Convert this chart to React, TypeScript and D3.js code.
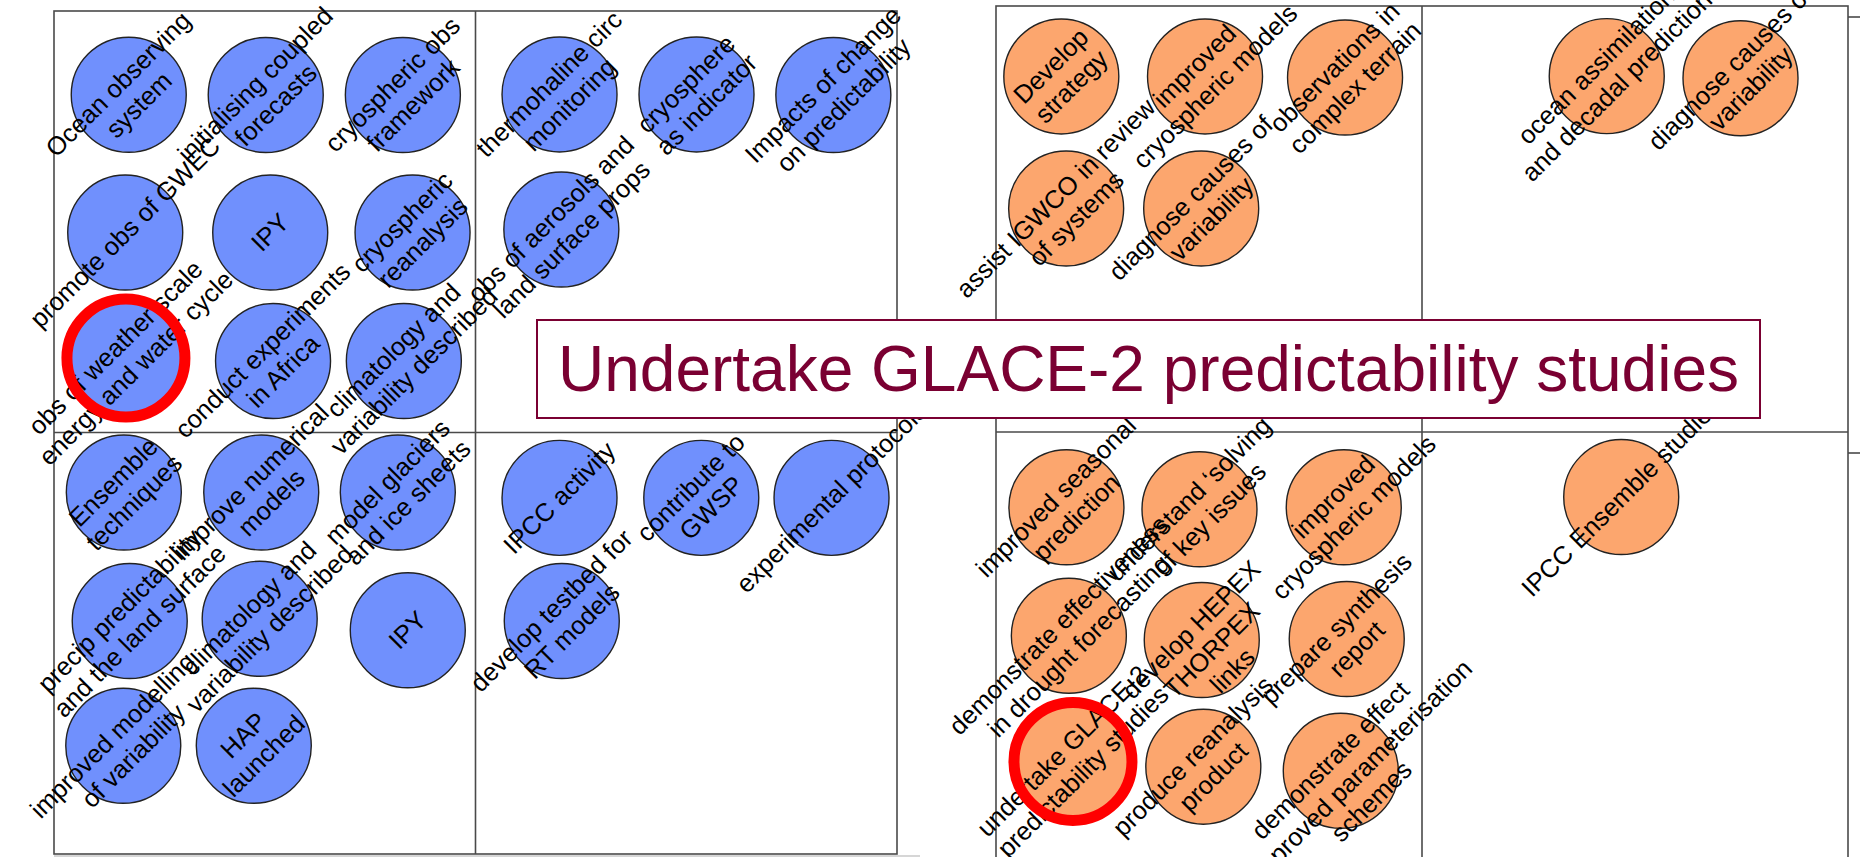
import React from 'react';
import * as d3 from 'd3';

type Node = { lines: string[]; u: number; v: number };

// Grid units: each panel is 6 x 6 units (two quadrants of 3 x 3 each way)
const leftTopLeft: Node[] = [
  { lines: ['Ocean observing', 'system'], u: 0.532, v: 0.596 },
  { lines: ['initialising coupled', 'forecasts'], u: 1.507, v: 0.598 },
  { lines: ['cryospheric obs', 'framework'], u: 2.483, v: 0.598 },
  { lines: ['promote obs of GWEC'], u: 0.507, v: 1.577 },
  { lines: ['IPY'], u: 1.539, v: 1.577 },
  { lines: ['cryospheric', 'reanalysis'], u: 2.552, v: 1.577 },
  { lines: ['obs of weather scale', 'energy and water cycle'], u: 0.512, v: 2.47 },
  { lines: ['conduct experiments', 'in Africa'], u: 1.559, v: 2.491 },
  { lines: ['climatology and', 'variability described'], u: 2.49, v: 2.491 },
];
const leftTopRight: Node[] = [
  { lines: ['thermohaline circ', 'monitoring'], u: 3.598, v: 0.594 },
  { lines: ['cryosphere', 'as indicator'], u: 4.573, v: 0.594 },
  { lines: ['Impacts of change', 'on predictability'], u: 5.547, v: 0.598 },
  { lines: ['obs of aerosols and', 'land surface props'], u: 3.611, v: 1.555 },
];
const leftBottomLeft: Node[] = [
  { lines: ['Ensemble', 'techniques'], u: 0.497, v: 3.427 },
  { lines: ['improve numerical', 'models'], u: 1.475, v: 3.427 },
  { lines: ['model glaciers', 'and ice sheets'], u: 2.447, v: 3.427 },
  { lines: ['precip predictability', 'and the land surface'], u: 0.539, v: 4.342 },
  { lines: ['climatology and', 'variability described'], u: 1.464, v: 4.326 },
  { lines: ['IPY'], u: 2.518, v: 4.408 },
  { lines: ['improved modelling', 'of variability'], u: 0.493, v: 5.23 },
  { lines: ['HAP', 'launched'], u: 1.422, v: 5.23 },
];
const leftBottomRight: Node[] = [
  { lines: ['IPCC activity'], u: 3.598, v: 3.465 },
  { lines: ['contribute to', 'GWSP'], u: 4.607, v: 3.465 },
  { lines: ['experimental protocols'], u: 5.534, v: 3.465 },
  { lines: ['develop testbed for', 'RT models'], u: 3.614, v: 4.342 },
];

const rightTopLeft: Node[] = [
  { lines: ['Develop', 'strategy'], u: 0.46, v: 0.496 },
  { lines: ['improved', 'cryospheric models'], u: 1.472, v: 0.496 },
  { lines: ['observations in', 'complex terrain'], u: 2.458, v: 0.504 },
  { lines: ['assist IGWCO in review', 'of systems'], u: 0.494, v: 1.426 },
  { lines: ['diagnose causes of', 'variability'], u: 1.445, v: 1.426 },
];
const rightTopRight: Node[] = [
  { lines: ['ocean assimilation', 'and decadal prediction'], u: 4.301, v: 0.494 },
  { lines: ['diagnose causes of', 'variability'], u: 5.243, v: 0.509 },
];
const rightBottomLeft: Node[] = [
  { lines: ['improved seasonal', 'prediction'], u: 0.496, v: 3.53 },
  { lines: ['understand \u2018solving', 'of key issues'], u: 1.433, v: 3.544 },
  { lines: ['improved', 'cryospheric models'], u: 2.449, v: 3.53 },
  { lines: ['demonstrate effectiveness', 'in drought forecasting'], u: 0.513, v: 4.435 },
  { lines: ['develop HEPEX', 'THORPEX', 'links'], u: 1.449, v: 4.465 },
  { lines: ['prepare synthesis', 'report'], u: 2.47, v: 4.458 },
  { lines: ['undertake GLACE-2', 'predictability studies'], u: 0.542, v: 5.32 },
  { lines: ['produce reanalysis', 'product'], u: 1.46, v: 5.357 },
  { lines: ['demonstrate effect', 'of improved parameterisation', 'schemes'], u: 2.428, v: 5.386 },
];
const rightBottomRight: Node[] = [
  { lines: ['IPCC Ensemble studies'], u: 4.403, v: 3.458 },
];

const highlighted = ['obs of weather scale', 'undertake GLACE-2'];
const titleText = 'Undertake GLACE-2 predictability studies';

const BLUE = '#7090fd';
const ORANGE = '#fca66e';
const MAROON = '#7a0032';
const FONT = '"Liberation Sans", Arial, sans-serif';

function Panel({ nodes, xs, ys, fill }: { nodes: Node[]; xs: d3.ScaleLinear<number, number>; ys: d3.ScaleLinear<number, number>; fill: string }) {
  const r = 57.5;
  const fs = 25.5;
  const lh = 29;
  // single lines are centred; multi-line labels have their first two lines straddling the centre
  const lineY = (j: number, n: number) => (n === 1 ? 0 : (j - 0.5) * lh) + fs * 0.33;
  return (
    <g>
      {nodes.map((n, i) => (
        <circle key={'c' + i} cx={xs(n.u)} cy={ys(n.v)} r={r} fill={fill} stroke="#222" strokeWidth={1.4} />
      ))}
      {nodes.map((n, i) => (
        <text
          key={'t' + i}
          transform={`translate(${xs(n.u)},${ys(n.v)}) rotate(-45)`}
          fontFamily={FONT}
          fontSize={fs}
          fill="#000"
          textAnchor="middle"
        >
          {n.lines.map((l, j) => (
            <tspan key={j} x={0} y={lineY(j, n.lines.length)}>
              {l}
            </tspan>
          ))}
        </text>
      ))}
      {nodes
        .filter((n) => highlighted.includes(n.lines[0]))
        .map((n, i) => (
          <circle key={'h' + i} cx={xs(n.u)} cy={ys(n.v)} r={59} fill="none" stroke="#ff0000" strokeWidth={11} />
        ))}
    </g>
  );
}

export default function App() {
  const lx = d3.scaleLinear().domain([0, 6]).range([54, 897]);
  const ly = d3.scaleLinear().domain([0, 6]).range([11, 854]);
  const rx = d3.scaleLinear().domain([0, 6]).range([996, 1848]);
  const ry = d3.scaleLinear().domain([0, 6]).range([6, 858]);
  const border = '#4a4a4a';
  const bw = 1.6;

  const leftNodes = [...leftTopLeft, ...leftTopRight, ...leftBottomLeft, ...leftBottomRight];
  const rightNodes = [...rightTopLeft, ...rightTopRight, ...rightBottomLeft, ...rightBottomRight];

  return (
    <svg width={1860} height={857} style={{ position: 'absolute', left: 0, top: 0, background: '#fff' }}>
      <rect x={0} y={0} width={1860} height={857} fill="#fff" />
      {/* left panel frame */}
      <line x1={lx(0)} x2={920} y1={856} y2={856} stroke="#c8c8c8" strokeWidth={1.5} />
      <rect x={lx(0)} y={ly(0)} width={lx(6) - lx(0)} height={ly(6) - ly(0)} fill="none" stroke={border} strokeWidth={bw} />
      <line x1={lx(3)} x2={lx(3)} y1={ly(0)} y2={ly(6)} stroke={border} strokeWidth={bw} />
      <line x1={lx(0)} x2={lx(6)} y1={ly(3)} y2={ly(3)} stroke={border} strokeWidth={bw} />
      {/* right panel frame */}
      <rect x={rx(0)} y={ry(0)} width={rx(6) - rx(0)} height={ry(6) - ry(0) + 20} fill="none" stroke={border} strokeWidth={bw} />
      <line x1={rx(3)} x2={rx(3)} y1={ry(0)} y2={ry(6) + 20} stroke={border} strokeWidth={bw} />
      <line x1={rx(0)} x2={rx(6)} y1={ry(3)} y2={ry(3)} stroke={border} strokeWidth={bw} />
      {/* neighbouring frame fragments */}
      <line x1={rx(6)} x2={1860} y1={17} y2={17} stroke={border} strokeWidth={bw} />
      <line x1={rx(6)} x2={1860} y1={453} y2={453} stroke={border} strokeWidth={bw} />

      <Panel nodes={leftNodes} xs={lx} ys={ly} fill={BLUE} />
      <Panel nodes={rightNodes} xs={rx} ys={ry} fill={ORANGE} />

      {/* title box */}
      <rect x={537} y={320} width={1223} height={98} fill="#fff" stroke={MAROON} strokeWidth={2} />
      <text x={1148.5} y={391} textAnchor="middle" fontFamily={FONT} fontSize={64} fill={MAROON}>
        {titleText}
      </text>
    </svg>
  );
}
